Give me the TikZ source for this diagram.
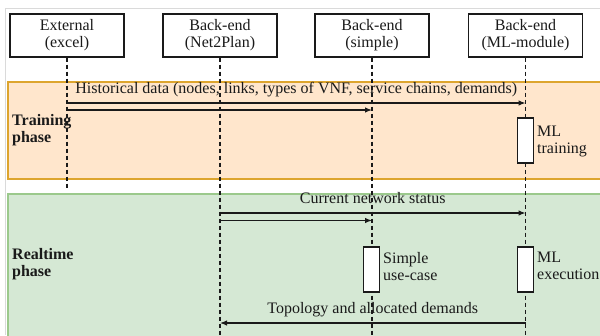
\documentclass[tikz,border=0pt]{standalone}
\usepackage{fontspec}
\setmainfont{Liberation Serif}
\usetikzlibrary{arrows.meta}
\definecolor{orfill}{HTML}{FFE6CC}
\definecolor{orline}{HTML}{DDA52E}
\definecolor{grfill}{HTML}{D5E8D4}
\definecolor{grline}{HTML}{9BC98C}
\definecolor{framegray}{HTML}{DADADA}
\definecolor{ink}{HTML}{1A1A1A}
\begin{document}
\begin{tikzpicture}[x=1pt,y=-1pt, font=\fontsize{16}{17}\selectfont, text=ink,
 actor/.style={draw=ink, fill=white, line width=1.3pt, minimum width=114pt, minimum height=43pt, align=center, inner sep=0},
 life/.style={draw=ink, line width=1.3pt, dash pattern=on 4pt off 3pt},
 msg/.style={draw=ink, line width=1.2pt, -{Latex[length=7pt,width=5.5pt]}},
 act/.style={draw=ink, fill=white, line width=1.3pt, minimum width=16pt, minimum height=45pt, inner sep=0},
 phase/.style={font=\fontsize{16}{17}\selectfont\bfseries, align=left, anchor=west, inner sep=0},
 note/.style={align=left, anchor=north west, inner sep=0},
 lbl/.style={midway, anchor=base, yshift=9.5pt, inner sep=0}]
\useasboundingbox (0,0) rectangle (600,335);
\draw[framegray, line width=0.8pt] (5,335) -- (5,8) -- (600,8);
% phases
\draw[orline, fill=orfill, line width=1.8pt] (8,82) rectangle (612,179);
\draw[grline, fill=grfill, line width=1.8pt] (8,194) rectangle (612,345);
\node[phase] (tp) at (12,130.5) {Training\\phase};
\node[phase] (rp) at (12,264.5) {Realtime\\phase};
% actors
\node[actor] (ext) at (67,35.5) {External\\(excel)};
\node[actor] (n2p) at (220,35.5) {Back-end\\(Net2Plan)};
\node[actor] (sim) at (372,35.5) {Back-end\\(simple)};
\node[actor] (ml) at (525.5,35.5) {Back-end\\(ML-module)};
% lifelines
\draw[life] (ext.south) -- ++(0,131) coordinate (extE);
\draw[life] (n2p.south) -- ++(0,290) coordinate (n2pE);
\draw[life] (sim.south) -- ++(0,290) coordinate (simE);
\draw[life] (ml.south) -- ++(0,290) coordinate (mlE);
% activations
\node[act] (mlt) at (525.5,140.5) {};
\node[act] (sima) at (371.5,269.5) {};
\node[act] (mle) at (525.5,269.5) {};
\node[note] (mltl) at (537,126.3) {ML\\training};
\node[note] (siml) at (383,251.8) {Simple\\use-case};
\node[note] (mlel) at (537,251.8) {ML\\execution};
% message rows
\coordinate (r1) at (0,103);
\coordinate (r2) at (0,110);
\coordinate (r3) at (0,213);
\coordinate (r4) at (0,220.5);
\coordinate (r5) at (0,323);
\draw[msg] (ext |- r1) -- (ml |- r1) node[lbl] {Historical data (nodes, links, types of VNF, service chains, demands)};
\draw[msg] (ext |- r2) -- (sim |- r2);
\draw[msg] (n2p |- r3) -- (ml |- r3) node[lbl] {Current network status};
\draw[msg] (n2p |- r4) -- (sim |- r4);
\draw[msg] (ml |- r5) -- (n2p |- r5) node[lbl] {Topology and allocated demands};
\end{tikzpicture}
\end{document}
